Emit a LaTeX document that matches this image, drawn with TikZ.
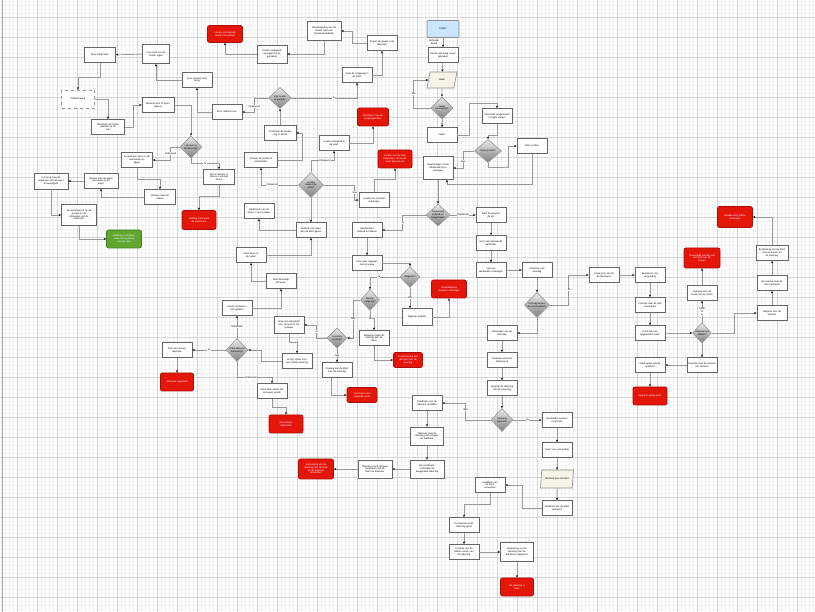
\documentclass[tikz,border=0pt]{standalone}
\usepackage{fontspec}
\setmainfont{Liberation Sans}
\usetikzlibrary{shapes.geometric,arrows.meta}
\definecolor{rood}{RGB}{228,22,10}
\definecolor{groen}{RGB}{96,166,48}
\definecolor{lichtblauw}{RGB}{204,229,255}
\definecolor{beige}{RGB}{246,243,232}
\newcommand{\kleinfont}{\fontsize{2.4}{2.8}\selectfont}
\tikzset{
    stap/.style={draw=black!60, line width=0.7pt, fill=white, minimum width=30, minimum height=15, text width=28, inner sep=0.5, align=center, font=\kleinfont},
    stop/.style={stap, fill=rood, draw=rood!75!black, text=white, rounded corners=2},
    klaar/.style={stop, fill=groen, draw=groen!75!black},
    startbox/.style={stap, fill=lichtblauw, draw=black!45, rounded corners=1, minimum width=32, minimum height=17},
    keuze/.style={diamond, draw=black!40, line width=0.6pt, top color=black!8, bottom color=black!50, minimum width=22, minimum height=22, inner sep=0},
    kz/.style={label={[font=\kleinfont, align=center]center:#1}},
    invoer/.style={trapezium, trapezium left angle=70, trapezium right angle=110, trapezium stretches=true, draw=black!45, line width=0.6pt, fill=beige, minimum width=30, minimum height=16, inner sep=0.5, font=\kleinfont, align=center},
    lijn/.style={draw=black!40, line width=0.7pt, -{Stealth[length=2.4pt, width=2pt, color=black]}},
    lbl/.style={fill=white, inner sep=0.3, font=\kleinfont, align=center},
    fijn/.style={black!5, line width=0.4pt},
    grof/.style={black!16, line width=0.7pt}
}
\begin{document}
\begin{tikzpicture}[x=1pt, y=-1pt]
        \fill[white] (0,0) rectangle (815,612);
        \useasboundingbox (0,0) rectangle (815,612);
        \foreach \i in {1,5,...,813} \draw[fijn] (\i,0) -- (\i,612);
        \foreach \j in {1,5,...,609} \draw[fijn] (0,\j) -- (815,\j);
        \foreach \i in {17,37,...,797} \draw[grof] (\i,0) -- (\i,612);
        \foreach \j in {17,37,...,597} \draw[grof] (0,\j) -- (815,\j);
        \draw[black!35, line width=0.8pt] (2,0) -- (2,612);

        \node[startbox] (start) at (443,29) {START};
        \node[stap] (aanv) at (443,55) {Eerste aanvraag vanuit\\gebruiker};
        \node[invoer] (naam) at (442,80) {Naam};
        \node[keuze, kz={Naam\\toevoeging?}] (dnaam) at (442,108) {};
        \node[stap] (bnaam) at (442,135) {Naam};
        \node[stap] (info) at (497,116) {Informatie aangeleverd\\in begin vragen};
        \node[keuze, minimum width=27, minimum height=23, kz={Open punten?}] (dopen) at (488,151) {};
        \node[stap] (open) at (532,146) {Open punten};
        \node[stap, minimum height=23] (verw) at (438,168) {Verwerkingen vanuit\\bestaande bron\\opvragen};
        \node[keuze, minimum width=24, kz={Toepassing\\bekend en\\toegestaan?}] (dtoe) at (438,215) {};
        \node[stap] (klant) at (491,215) {Klant bevraagt in\\de lijst};
        \node[stap] (aanb) at (491,243) {Kom naar bestaande\\aanbieder};
        \node[stap] (lijst) at (491,270) {Lijst van\\aanbieders ontvangen};
        \node[stap] (uitv) at (537,270) {Uitvoeren van\\uitvraag};
        \node[keuze, minimum width=25, minimum height=25, kz={Uitvraag binnen\\de voorwaarden?}] (duitv) at (537,305) {};
        \node[stap] (prijs) at (604,275) {Vraag prijs aan bij\\de tekenaars};
        \node[stap] (reken) at (650,275) {Berekenen van\\vergoeding};
        \node[stap] (check) at (650,305) {Controle naar de prijs\\en kwaliteit};
        \node[stap] (corr) at (650,333) {Controleer de\\opgestelde kosten};
        \node[keuze, minimum width=19, minimum height=20, kz={Akkoord met\\offerte?}] (dakk) at (702,333) {};
        \node[stap] (twijf) at (702,293) {Gesprek over de\\kosten en de opties};
        \node[stop, minimum width=36, text width=34, minimum height=20] (rtwijf) at (702,258) {Tussentijds overleg met\\de klant over de\\kosten};
        \node[stap] (akks) at (772,313) {Gesprek over de\\wensen};
        \node[stap] (terugo) at (772,283) {Na overleg naar de\\klant gestuurd};
        \node[stap, minimum width=32] (naark) at (772,253) {Bespreking met de klant\\over de kosten en\\de planning};
        \node[stop, minimum width=35, text width=33, minimum height=21] (rakk) at (735,217) {Goedkeuring offerte\\ontvangen};
        \node[stap] (klantb) at (702,365) {Gesprek over de wensen\\van de klant};
        \node[stap] (gelijk) at (650,365) {Gelijk gezet met de\\opdracht};
        \node[stop, minimum width=34, text width=32, minimum height=18] (rgel) at (650,396) {Opdracht gelijk gezet};

        \node[stap] (tek1) at (502,333) {Ontvangen van de\\tekening};
        \node[stap] (tek2) at (502,360) {Tekenaar werkt de\\tekening uit};
        \node[stap] (tek3) at (502,388) {Vergelijk de tekening\\met de aanvraag};
        \node[keuze, minimum height=23, kz={Tekening\\akkoord?}] (dlev) at (502,420) {};
        \node[stap] (neelev) at (427,403) {Feedback voor de\\tekenaar opstellen};
        \node[stap, minimum width=33, minimum height=18] (werkg) at (427,436) {Tekenaar past de\\tekening aan volgens\\de feedback};
        \node[stap, minimum width=34, minimum height=18] (terugs) at (427,469) {De co\"ordinator\\controleert de\\aangepaste tekening};
        \node[stap, minimum width=34, minimum height=18] (spoorw) at (375,469) {Tekening wordt opnieuw\\besproken met de\\klant en tekenaar};
        \node[stop, minimum width=35, text width=33, minimum height=20] (rmelding) at (316,469) {Aanpassing van de\\tekening met de klant\\en de tekenaar\\besproken};
        \node[stap] (best) at (557,420) {Bestanden opslaan\\in de map};
        \node[stap] (afs) at (557,450) {Klaar voor verzending};
        \node[invoer, minimum width=33, minimum height=18] (pafs) at (557,479) {Bestand naar de klant};
        \node[stap] (afsg) at (557,508) {Bestand naar de klant\\gestuurd};
        \node[stap] (foto) at (490,485) {Feedback van\\de klant\\verwerken};
        \node[stap] (docb) at (464,525) {De klant keurt de\\tekening goed};
        \node[stap] (cont) at (464,552) {Controle van de\\laatste versie van\\de tekening};
        \node[stap, minimum width=33, minimum height=19] (opl) at (517,552) {Oplevering van de\\tekening met de\\definitieve gegevens};
        \node[stop, minimum width=33, minimum height=18] (reind) at (517,587) {De tekening is\\klaar};

        \node[stap] (sys) at (367,230) {Specificaties\\bekend te hebben};
        \node[stap] (verz) at (367,263) {Kom naar magazijn\\met de vraag};
        \node[keuze, minimum width=20, minimum height=21, kz={Magazijn?}] (dmag) at (410,277) {};
        \node[keuze, minimum width=19, minimum height=21, kz={Staat in\\magazijn?}] (dmagb) at (370,300) {};
        \node[stap, minimum height=17] (magr) at (417,317) {Magazijn regelen};
        \node[stop, minimum width=35, text width=33, minimum height=18] (rverd) at (449,289) {Verduidelijking\\magazijn ontvangen};
        \node[stap] (magv) at (374,338) {Magazijn regelt de\\levering aan de\\klant};
        \node[stop, minimum width=29, text width=27] (rmagr) at (408,360) {Communicatie met\\de klant over de\\levering};
        \node[keuze, minimum width=20, minimum height=20, kz={Levering\\mogelijk?}] (dbrug) at (337,338) {};
        \node[stap, minimum height=17] (duur) at (289,325) {Zoek een alternatief\\voor de klant in het\\systeem};
        \node[stap] (sto) at (297,361) {Er zijn opties voor\\een andere levering};
        \node[stap] (cons) at (337,370) {Overleg met de klant\\over de planning};
        \node[stop] (rwijz) at (362,395) {Levering in een\\volgende ronde};
        \node[stap] (ont) at (311,230) {Aanbod met opties\\aan de klant geven};
        \node[stap] (voor) at (251,255) {Klant kiest uit\\de opties};
        \node[stap] (bev) at (281,281) {Klant bevestigt\\de keuze};
        \node[stap] (doc) at (237,308) {Keuze opslaan in\\het systeem};
        \node[keuze, minimum width=22, minimum height=23, kz={Klant akkoord\\met keuze?}] (dgeen) at (237,350) {};
        \node[stap] (plan) at (177,350) {Plan een nieuwe\\afspraak};
        \node[stop, minimum width=33, minimum height=18] (rplan) at (177,382) {Afspraak ingepland};
        \node[stap] (beh) at (272,391) {Klant laten weten dat\\de keuze vervalt};
        \node[stop, minimum width=34, minimum height=18] (rbeh) at (286,424) {Aanvraag is\\afgesloten};
        \node[stap] (vast) at (259,211) {Onderzoek van de\\opties in het systeem};

        \node[stap, minimum width=34, minimum height=19] (plaats) at (324,31) {Plaatsbepaling van de\\locatie naar een\\bestaand gedeelte};
        \node[stap] (knoop) at (382,43) {Koppel de plaats in de\\tekening};
        \node[stap] (omg) at (357,75) {Zoek de omgeving in\\de kaart};
        \node[keuze, minimum width=23, minimum height=21, kz={Ligt locatie\\in gebied?}] (dgeb) at (280,98) {};
        \node[stap, minimum width=32] (control) at (280,133) {Controleer de locatie\\nog in beeld};
        \node[stop, minimum width=31, minimum height=18] (rwacht) at (373,117) {Wachtpunt aan de\\toegangsbeheer};
        \node[stap] (spoorv) at (334,143) {Locatie onbekend in\\de kaart};
        \node[stap, minimum width=33] (probeer) at (261,160) {Probeer de locatie te\\achterhalen};
        \node[stop, minimum width=34, text width=32, minimum height=18] (rlocatie) at (395,159) {Locatie met de klant\\bespreken, de locatie\\moet bekend zijn};
        \node[keuze, minimum width=25, minimum height=25, kz={Locatie\\bekend bij\\klant?}] (dspoor) at (311,185) {};
        \node[stap] (enkel) at (374,200) {Locatie van de klant\\ontvangen};

        \node[stop, minimum width=35, text width=33, minimum height=17] (rpijn) at (225,34) {Locatie niet bekend\\binnen het gebied};
        \node[stap, minimum height=18] (volg) at (272,54) {Locatie onbekend,\\navragen bij de\\gebruiker};
        \node[stap, minimum width=31] (terug) at (100,55) {Stap terugzetten};
        \node[stap, minimum width=27, text width=25, minimum height=19] (kom) at (156,54) {Kom punt van de\\locatie tegen};
        \node[stap] (terugk) at (197,80) {Kom ontwerp stap\\terug};
        \node[stap, dashed, draw=black!40, minimum width=33, minimum height=18] (onder) at (78,99) {Onderbreking};
        \node[stap, minimum width=32] (moment) at (158,105) {Moment punt of spoor\\ingeven};
        \node[stap, minimum width=33] (miss) at (108,127) {Misschien de locatie\\ophalen op de\\wal};
        \node[stap] (zit) at (227,112) {Zit er afstand over};
        \node[keuze, kz={Ligt punt op\\de tekening?}] (dafst) at (191,147) {};
        \node[stap, minimum width=31] (spoor) at (137,160) {Er gaat een spoor in de\\bestaande lijn\\liggen};
        \node[stap, minimum width=31] (zijn) at (219,177) {Zijn er wissels of\\sporen in andere\\zones};
        \node[stap, minimum width=31] (maak) at (160,197) {Wissels relevant\\maken};
        \node[stap, minimum width=34, text width=32] (merk) at (101,181) {Merken van het eigen\\spoorwerk in de\\kaart};
        \node[stap, minimum width=34, text width=32, minimum height=16] (ontw) at (51,181) {Ga terug naar de\\ontwerper om het spoor\\te bevestigen};
        \node[stap, minimum width=35, text width=33, minimum height=21] (afst) at (79,215) {Ga aanvraag na op de\\punten en de\\afstanden met de\\ontwerper};
        \node[klaar, minimum width=35, text width=33, minimum height=18] (gklaar) at (124,239) {Melding is compleet,\\maak de koppeling\\met de map};
        \node[stop, minimum width=34, text width=32, minimum height=19] (rspoor) at (199,220) {Melding valt buiten\\de spoorzone};

        \path[draw,lijn] (start) -- node[lbl, left=3pt] {Gebruiker\\bedrijf} (aanv);
        \path[draw,lijn] (aanv) -- (naam);
        \path[draw,lijn] (naam) -- (dnaam);
        \path[draw,lijn] (dnaam.west) -- ++(-17,0) |- node[lbl, pos=0.25] {Nee} (naam.west);
        \path[draw,lijn] (dnaam) -- node[lbl] {Ja} (bnaam);
        \path[draw,lijn] (bnaam.east) -- ++(12,0) |- ([yshift=5pt]info.north) -- (info.north);
        \path[draw,lijn] (info.south) |- ([yshift=4pt]dopen.north) -- (dopen.north);
        \path[draw,lijn] (dopen.south) -- ++(0,5) -| node[lbl, pos=0.45] {Ja} ([xshift=-8pt]open.west) -- (open.west);
        \path[draw,lijn] (dopen.west) -- ++(-11,0) |- node[lbl, pos=0.3] {Nee} (verw.east);
        \path[draw,lijn] (open.south) -- ++(0,31) -| ([xshift=9pt]verw.south);
        \path[draw,lijn] (verw) -- (dtoe);
        \path[draw,lijn] (dtoe) -- node[lbl] {Onbekend} (klant);
        \path[draw,lijn] (dtoe.west) -- ++(-23,0) |- node[lbl, pos=0.25] {Ja} (sys.east);
        \path[draw,lijn] (klant) -- (aanb);
        \path[draw,lijn] (aanb) -- (lijst);
        \path[draw,lijn] (lijst) -- (uitv);
        \path[draw,lijn] (uitv) -- (duitv);
        \path[draw,lijn] (duitv.east) -- ++(19,0) |- node[lbl, pos=0.25] {Ja} (prijs.west);
        \path[draw,lijn] (duitv.south) |- (tek1.east);
        \path[draw,lijn] (prijs) -- (reken);
        \path[draw,lijn] (reken) -- (check);
        \path[draw,lijn] (check) -- (corr);
        \path[draw,lijn] (corr) -- (dakk);
        \path[draw,lijn] (dakk) -- node[lbl] {Twijfel\\of\\ja} (twijf);
        \path[draw,lijn] (twijf) -- (rtwijf);
        \path[draw,lijn] (dakk.east) -- ++(23,0) |- (akks.west);
        \path[draw,lijn] (akks) -- (terugo);
        \path[draw,lijn] (terugo) -- (naark);
        \path[draw,lijn] (naark.north) |- (rakk.east);
        \path[draw,lijn] (dakk) -- (klantb);
        \path[draw,lijn] (klantb) -- (gelijk);
        \path[draw,lijn] (gelijk) -- (rgel);
        \path[draw,lijn] (tek1) -- (tek2);
        \path[draw,lijn] (tek2) -- (tek3);
        \path[draw,lijn] (tek3) -- (dlev);
        \path[draw,lijn] (dlev.west) -- ++(-25,0) |- node[lbl, pos=0.3] {Nee} (neelev.east);
        \path[draw,lijn] (dlev) -- node[lbl] {Ja} (best);
        \path[draw,lijn] (best) -- (afs);
        \path[draw,lijn] (afs) -- (pafs);
        \path[draw,lijn] (pafs) -- (afsg);
        \path[draw,lijn] (afsg.west) -- ++(-19,0) |- (foto.east);
        \path[draw,lijn] (foto.south) -- ++(0,12) -| (docb.north);
        \path[draw,lijn] (docb) -- (cont);
        \path[draw,lijn] (cont) -- (opl);
        \path[draw,lijn] (opl) -- (reind);
        \path[draw,lijn] (neelev) -- (werkg);
        \path[draw,lijn] (werkg) -- (terugs);
        \path[draw,lijn] (terugs) -- (spoorw);
        \path[draw,lijn] (spoorw) -- (rmelding);

        \path[draw,lijn] (sys) -- (verz);
        \path[draw,lijn] (verz.east) -| (dmag.north);
        \path[draw,lijn] (dmag.south) -- node[lbl] {Nee} (dmag.south |- magr.north);
        \path[draw,lijn] (magr.east) -| (rverd.south);
        \path[draw,lijn] (dmag.west) -| node[lbl, pos=0.35] {Ja} (dmagb.north);
        \path[draw,lijn] (dmagb.south) -- ++(0,8) node[lbl] {Ja} -| (magv.north);
        \path[draw,lijn] (magv.south) |- (rmagr.west);
        \path[draw,lijn] (dmagb.west) -- ++(-7,0) |- node[lbl, pos=0.25] {Nee} (dbrug.east);
        \path[draw,lijn] (dbrug.west) -- ++(-10,0) |- node[lbl, pos=0.25] {Ja} (duur.east);
        \path[draw,lijn] (dbrug) -- node[lbl] {Nee} (cons);
        \path[draw,lijn] ([xshift=-6pt]cons.south) |- (rwijz.west);
        \path[draw,lijn] (duur.south) -- ++(0,9) -| (sto.north);
        \path[draw,lijn] (sto.west) -- ++(-20,0) |- (dgeen.east);
        \path[draw,lijn] (dgeen) -- node[lbl] {Onbekend} (doc);
        \path[draw,lijn] (dgeen) -- node[lbl] {Ja} (plan);
        \path[draw,lijn] (dgeen.south) -- ++(0,16) -| node[lbl, pos=0.2] {Onbekend} (beh.north);
        \path[draw,lijn] (plan) -- (rplan);
        \path[draw,lijn] (beh.south) -- ++(0,9) -| (rbeh.north);
        \path[draw,lijn] (doc.east) -| (bev.south);
        \path[draw,lijn] (bev.west) -| (voor.south);
        \path[draw,lijn] (voor.east) -| (ont.south);
        \path[draw,lijn] (ont.west) -| (vast.south);
        \path[draw,lijn] (dspoor) -- (ont);

        \path[draw,lijn] (dspoor.north) -- ++(0,-12) -| node[lbl, pos=0.3] {Onbekend} (spoorv.south);
        \path[draw,lijn] (spoorv.east) -| (rwacht.south);
        \path[draw,lijn] (dspoor.west) -| node[lbl, pos=0.35] {Onbekend} (probeer.south);
        \path[draw,lijn] (probeer.east) -- ++(24,0) |- (control.east);
        \path[draw,lijn] (control) -- (dgeb);
        \path[draw,lijn] (dgeb.west) -- ++(-14,0) |- node[lbl, pos=0.3] {Onbekend} (zit.east);
        \path[draw,lijn] (dgeb.east) -| node[lbl, pos=0.32] {Ja} (omg.south);
        \path[draw,lijn] (omg.east) -| (knoop.south);
        \path[draw,lijn] (knoop.west) -- ++(-14,0) |- (plaats.east);
        \path[draw,lijn] (plaats.south) |- (volg.east);
        \path[draw,lijn] (volg.west) -| (rpijn.south);
        \path[draw,lijn] (zit.west) -| (terugk.south);
        \path[draw,lijn] (terugk.west) -| (kom.south);
        \path[draw,lijn] (kom) -- (terug);
        \path[draw,lijn] (terug.south) -- ++(0,15) -| (onder.north);
        \path[draw,lijn] (onder.east) -| (miss.north);
        \path[draw,lijn] (miss.east) -- ++(8,0) |- (moment.west);
        \path[draw,lijn] (moment.east) -| (dafst.north);
        \path[draw,lijn] (dafst.west) -- ++(-9,0) |- node[lbl, pos=0.25] {Onbekend} (spoor.east);
        \path[draw,lijn] (dafst.south) -- ++(0,5) -| node[lbl, pos=0.25] {Ja} (zijn.north);
        \path[draw,lijn] (zijn.south) -- ++(0,12) -| (rspoor.north);
        \path[draw,lijn] (spoor.south) -- ++(0,12) -| (maak.north);
        \path[draw,lijn] (maak.west) -| (merk.south);
        \path[draw,lijn] (merk) -- (ontw);
        \path[draw,lijn] (ontw.south) |- (afst.west);
        \path[draw,lijn] (afst.south) |- (gklaar.west);
        \path[draw,lijn] (dspoor.east) -- ++(31,0) |- node[lbl, pos=0.25] {Nee} (enkel.west);
        \path[draw,lijn] (enkel.north) -- ++(0,-13) -| (rlocatie.south);
\end{tikzpicture}
\end{document}
